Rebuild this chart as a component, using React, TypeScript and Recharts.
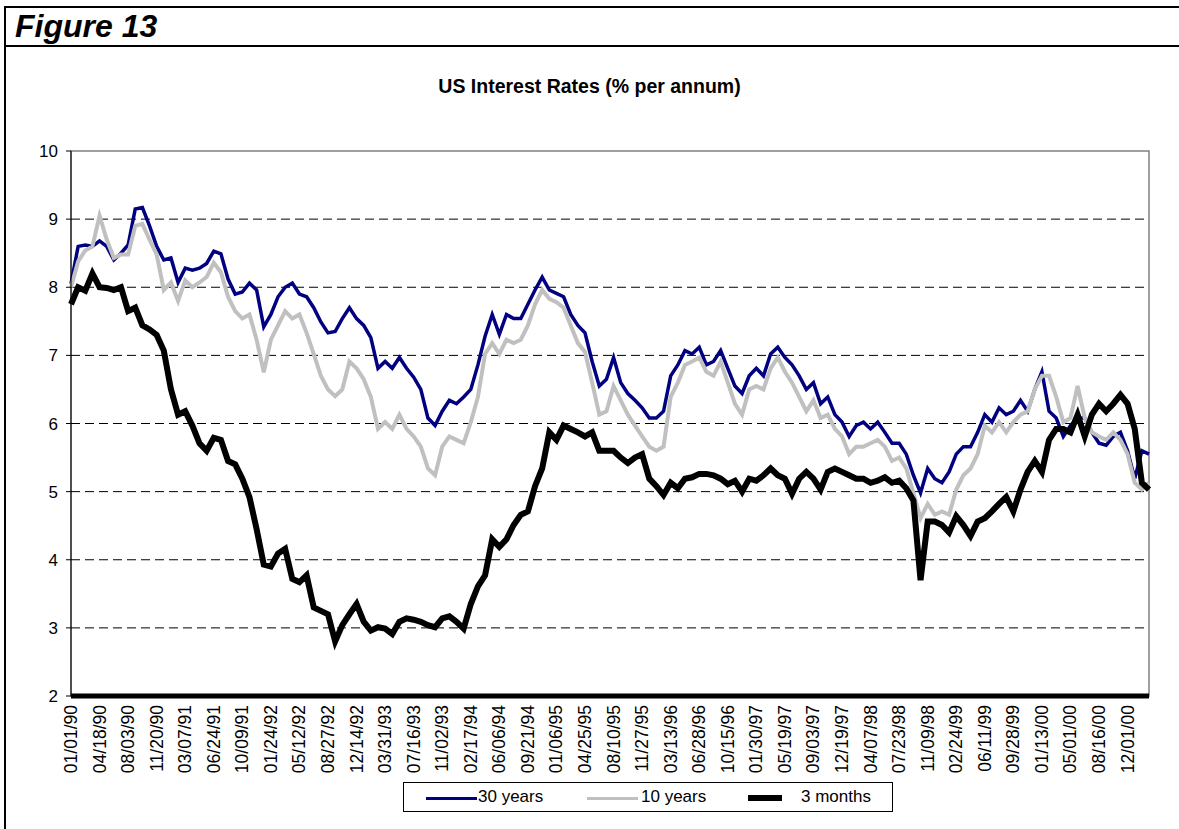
import { LineChart, Line, XAxis, YAxis, ReferenceLine, ReferenceArea } from "recharts";

// tick labels on the date axis, one every 107 days
const DATE_LABELS = [
  "01/01/90", "04/18/90", "08/03/90", "11/20/90", "03/07/91", "06/24/91", "10/09/91", "01/24/92",
  "05/12/92", "08/27/92", "12/14/92", "03/31/93", "07/16/93", "11/02/93", "02/17/94", "06/06/94",
  "09/21/94", "01/06/95", "04/25/95", "08/10/95", "11/27/95", "03/13/96", "06/28/96", "10/15/96",
  "01/30/97", "05/19/97", "09/03/97", "12/19/97", "04/07/98", "07/23/98", "11/09/98", "02/24/99",
  "06/11/99", "09/28/99", "01/13/00", "05/01/00", "08/16/00", "12/01/00",
];

// readings taken four per label interval (one row = one interval)
const RATE_30Y = [
  8.05, 8.6, 8.62, 8.6,
  8.68, 8.6, 8.4, 8.5,
  8.62, 9.15, 9.17, 8.9,
  8.6, 8.4, 8.43, 8.07,
  8.28, 8.25, 8.28, 8.35,
  8.53, 8.49, 8.12, 7.9,
  7.93, 8.06, 7.96, 7.42,
  7.6, 7.86, 8.0, 8.06,
  7.9, 7.86, 7.7, 7.49,
  7.33, 7.35, 7.54, 7.7,
  7.54, 7.44, 7.26, 6.81,
  6.91, 6.81, 6.97, 6.81,
  6.68, 6.5, 6.08, 5.97,
  6.18, 6.34, 6.29, 6.39,
  6.5, 6.86, 7.28, 7.6,
  7.31, 7.6, 7.54, 7.54,
  7.75, 7.96, 8.15, 7.96,
  7.91, 7.86, 7.6, 7.44,
  7.33, 6.91, 6.55, 6.65,
  6.97, 6.6, 6.44, 6.34,
  6.23, 6.08, 6.08, 6.18,
  6.7, 6.86, 7.07, 7.02,
  7.12, 6.86, 6.91, 7.07,
  6.81, 6.55, 6.44, 6.7,
  6.81, 6.7, 7.02, 7.12,
  6.97, 6.86, 6.7, 6.5,
  6.6, 6.29, 6.39, 6.13,
  6.02, 5.81, 5.97, 6.02,
  5.92, 6.02, 5.87, 5.71,
  5.71, 5.55, 5.24, 4.98,
  5.34, 5.19, 5.13, 5.29,
  5.55, 5.66, 5.66, 5.87,
  6.13, 6.02, 6.23, 6.13,
  6.18, 6.34, 6.18, 6.5,
  6.76, 6.18, 6.08, 5.81,
  5.97, 6.08, 6.08, 5.87,
  5.71, 5.68, 5.81, 5.87,
  5.6, 5.19, 5.6, 5.55,
];

const RATE_10Y = [
  8.0, 8.38, 8.54, 8.6,
  9.05, 8.7, 8.43, 8.48,
  8.48, 8.9, 8.93, 8.7,
  8.48, 7.96, 8.07, 7.8,
  8.1, 8.0, 8.07, 8.15,
  8.36, 8.22, 7.86, 7.65,
  7.54, 7.6, 7.23, 6.75,
  7.23, 7.44, 7.65, 7.54,
  7.6, 7.33, 7.02, 6.7,
  6.5, 6.4, 6.5, 6.91,
  6.81, 6.65, 6.39, 5.92,
  6.02, 5.92, 6.13, 5.92,
  5.81, 5.66, 5.34, 5.24,
  5.66, 5.81, 5.76, 5.71,
  6.02, 6.39, 7.02, 7.18,
  7.02, 7.23, 7.18, 7.23,
  7.44, 7.75, 7.96, 7.83,
  7.78, 7.7, 7.44, 7.18,
  7.05, 6.6, 6.13, 6.18,
  6.55, 6.34, 6.13, 5.97,
  5.81, 5.66, 5.6, 5.66,
  6.39, 6.6, 6.86, 6.91,
  6.97, 6.76, 6.7, 6.91,
  6.6, 6.29, 6.13, 6.5,
  6.55, 6.5, 6.81, 6.97,
  6.76, 6.6, 6.39, 6.18,
  6.34, 6.08, 6.13, 5.92,
  5.81, 5.55, 5.66, 5.66,
  5.71, 5.76, 5.66, 5.45,
  5.5, 5.34, 4.98, 4.61,
  4.82, 4.66, 4.71, 4.66,
  5.03, 5.24, 5.34, 5.55,
  5.97, 5.87, 6.02, 5.87,
  6.02, 6.13, 6.18, 6.5,
  6.7, 6.7, 6.39, 6.02,
  6.08, 6.55, 6.08, 5.87,
  5.81, 5.76, 5.87, 5.76,
  5.55, 5.13, 5.03, 5.13,
];

const RATE_3M = [
  7.75, 8.0, 7.95, 8.2,
  8.0, 7.99, 7.96, 8.0,
  7.65, 7.7, 7.44, 7.38,
  7.3, 7.07, 6.5, 6.13,
  6.18, 5.97, 5.71, 5.6,
  5.79, 5.76, 5.45, 5.4,
  5.19, 4.92, 4.45, 3.93,
  3.9, 4.09, 4.16, 3.72,
  3.67, 3.77, 3.3, 3.25,
  3.2, 2.8, 3.04, 3.2,
  3.35, 3.09, 2.96, 3.01,
  2.99, 2.91, 3.09, 3.14,
  3.12, 3.09, 3.04, 3.01,
  3.14, 3.17, 3.09, 2.99,
  3.35, 3.61, 3.77, 4.3,
  4.19, 4.3, 4.51, 4.66,
  4.71, 5.08, 5.34, 5.87,
  5.76, 5.97, 5.92, 5.87,
  5.81, 5.87, 5.6, 5.6,
  5.6, 5.5, 5.42, 5.5,
  5.55, 5.19, 5.08, 4.95,
  5.13, 5.05, 5.19, 5.21,
  5.26, 5.26, 5.24, 5.19,
  5.11, 5.16, 5.0, 5.19,
  5.16, 5.24, 5.34, 5.24,
  5.19, 4.97, 5.19, 5.29,
  5.19, 5.03, 5.29, 5.34,
  5.29, 5.24, 5.19, 5.19,
  5.13, 5.16, 5.21, 5.13,
  5.16, 5.05, 4.87, 3.7,
  4.56, 4.56, 4.51, 4.4,
  4.64, 4.51, 4.35, 4.56,
  4.61, 4.71, 4.82, 4.92,
  4.71, 5.03, 5.29, 5.45,
  5.29, 5.76, 5.92, 5.92,
  5.87, 6.13, 5.81, 6.13,
  6.29, 6.18, 6.29, 6.42,
  6.29, 5.92, 5.13, 5.03,
];

const Y_TICKS = [2, 3, 4, 5, 6, 7, 8, 9, 10];
const GRID_VALUES = [3, 4, 5, 6, 7, 8, 9];

const STEP = 0.25;
const data = RATE_30Y.map((v, i) => ({
  t: i * STEP,
  y30: v,
  y10: RATE_10Y[i],
  m3: RATE_3M[i],
}));
const X_MAX = (data.length - 1) * STEP;

const FONT = '"Liberation Sans", Arial, Helvetica, sans-serif';

function DateTick(props: any) {
  const { x, y, payload } = props;
  const ty = y + 1;
  return (
    <text
      x={x}
      y={ty}
      transform={`rotate(-90, ${x}, ${ty})`}
      textAnchor="end"
      dominantBaseline="central"
      fontSize={17.5}
      fontFamily={FONT}
      fill="#000"
    >
      {DATE_LABELS[payload.value]}
    </text>
  );
}

function LegendItem({ left, color, width, thick, label, textLeft }: any) {
  return (
    <>
      <div style={{ position: "absolute", left, top: 15 - thick / 2, width, height: thick, background: color }} />
      <div style={{ position: "absolute", left: textLeft, top: 4, fontSize: 17, lineHeight: "20px" }}>{label}</div>
    </>
  );
}

export default function App() {
  return (
    <div style={{ position: "absolute", left: 0, top: 0, width: 1179, height: 829, overflow: "hidden", background: "#fff", fontFamily: FONT, color: "#000" }}>
      {/* frame */}
      <div style={{ position: "absolute", left: 4, top: 6, width: 1300, height: 2, background: "#000" }} />
      <div style={{ position: "absolute", left: 4, top: 45, width: 1300, height: 2, background: "#000" }} />
      <div style={{ position: "absolute", left: 4, top: 6, width: 2, height: 900, background: "#000" }} />
      <div style={{ position: "absolute", left: 15, top: 9, fontSize: 32, fontWeight: 700, fontStyle: "italic", lineHeight: "34px" }}>
        Figure 13
      </div>

      <div style={{ position: "absolute", left: 0, top: 74, width: 1179, textAlign: "center", fontSize: 19.5, fontWeight: 700, lineHeight: "24px" }}>
        US Interest Rates (% per annum)
      </div>

      <div style={{ position: "absolute", left: 0, top: 0 }}>
        <LineChart width={1179} height={790} data={data} margin={{ top: 151, right: 30, left: 0, bottom: 0 }}>
          <ReferenceArea x1={0} x2={X_MAX} y1={2} y2={10} fill="none" stroke="#808080" strokeWidth={1.5} />
          {GRID_VALUES.map((v) => (
            <ReferenceLine key={v} y={v} stroke="#000" strokeDasharray="9 5" strokeWidth={1} />
          ))}
          <XAxis
            type="number"
            dataKey="t"
            domain={[0, X_MAX]}
            ticks={DATE_LABELS.map((_, i) => i)}
            interval={0}
            height={94}
            tickLine={false}
            axisLine={{ stroke: "#000", strokeWidth: 5 }}
            tick={<DateTick />}
          />
          <YAxis
            type="number"
            domain={[2, 10]}
            ticks={Y_TICKS}
            interval={0}
            width={71}
            tickSize={5}
            tickMargin={8}
            tickLine={{ stroke: "#000" }}
            axisLine={{ stroke: "#000" }}
            tick={{ fontSize: 17, fill: "#000", fontFamily: FONT }}
          />
          <Line type="linear" dataKey="y30" stroke="#000080" strokeWidth={3.5} dot={false} isAnimationActive={false} />
          <Line type="linear" dataKey="y10" stroke="#C0C0C0" strokeWidth={4} dot={false} isAnimationActive={false} />
          <Line type="linear" dataKey="m3" stroke="#000" strokeWidth={6} dot={false} isAnimationActive={false} />
        </LineChart>
      </div>

      {/* legend */}
      <div style={{ position: "absolute", left: 403, top: 782, width: 488, height: 28, border: "1px solid #000", background: "#fff" }}>
        <LegendItem left={22} color="#000080" width={51} thick={3} label="30 years" textLeft={74} />
        <LegendItem left={183} color="#C0C0C0" width={51} thick={3} label="10 years" textLeft={237} />
        <LegendItem left={344} color="#000" width={34} thick={6} label="3 months" textLeft={397} />
      </div>
    </div>
  );
}
